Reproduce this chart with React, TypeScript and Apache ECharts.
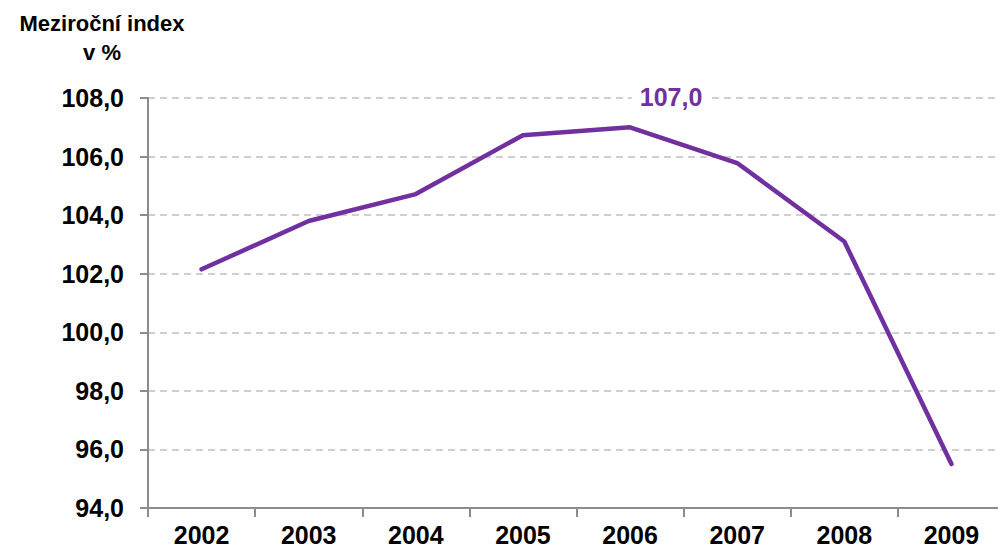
import React, { useEffect, useRef } from "react";
import * as echarts from "echarts";

const years = ["2002", "2003", "2004", "2005", "2006", "2007", "2008", "2009"];
const values = [102.15, 103.8, 104.72, 106.73, 107.0, 105.78, 103.1, 95.5];
const highlightIndex = 4;
const titleLines = ["Meziroční index", "v %"];

const fmt = (v: number) => v.toFixed(1).replace(".", ",");

export default function App() {
  const ref = useRef<HTMLDivElement>(null);
  useEffect(() => {
    const chart = echarts.init(ref.current!, null, { renderer: "svg" });
    const font = "Liberation Sans, Arial, sans-serif";
    chart.setOption({
      animation: false,
      grid: { left: 148, right: 1, top: 98, bottom: 44, containLabel: false },
      graphic: titleLines.map((t, i) => ({
        type: "text",
        x: 102,
        y: 23 + i * 29,
        style: {
          text: t,
          textAlign: "center",
          align: "center",
          textVerticalAlign: "middle",
          verticalAlign: "middle",
          fontSize: 22,
          fontWeight: "bold",
          fontFamily: font,
          fill: "#000",
        },
      })),
      xAxis: {
        type: "category",
        data: years,
        boundaryGap: true,
        axisLine: { lineStyle: { color: "#8c8c8c", width: 2 } },
        axisTick: { show: true, length: 9, lineStyle: { color: "#8c8c8c", width: 2 } },
        axisLabel: { color: "#000", fontSize: 25, fontWeight: "bold", fontFamily: font, margin: 14 },
        splitLine: { show: false },
      },
      yAxis: {
        type: "value",
        min: 94,
        max: 108,
        interval: 2,
        axisLine: { show: true, lineStyle: { color: "#8c8c8c", width: 2 } },
        axisTick: { show: true, length: 8, lineStyle: { color: "#8c8c8c", width: 2 } },
        axisLabel: {
          color: "#000",
          fontSize: 25,
          fontWeight: "bold",
          fontFamily: font,
          margin: 24,
          formatter: (v: number) => fmt(v),
        },
        splitLine: { show: true, lineStyle: { color: "#c0c0c0", type: [7, 5], width: 1.5 } },
      },
      series: [
        {
          type: "line",
          data: values,
          symbol: "none",
          lineStyle: { color: "#7030A0", width: 4.5, cap: "round", join: "round" },
          itemStyle: { color: "#7030A0" },
          markPoint: {
            symbol: "circle",
            symbolSize: 0,
            data: [
              {
                coord: [highlightIndex, values[highlightIndex]],
                value: values[highlightIndex],
                label: {
                  show: true,
                  position: "inside",
                  offset: [41, -30],
                  formatter: () => fmt(values[highlightIndex]),
                  color: "#7030A0",
                  fontSize: 25,
                  fontWeight: "bold",
                  fontFamily: font,
                  backgroundColor: "#fff",
                  padding: [0, 8],
                },
              },
            ],
          },
        },
      ],
    });
    return () => chart.dispose();
  }, []);
  return <div ref={ref} style={{ width: 1006, height: 552, margin: -8 }} />;
}
